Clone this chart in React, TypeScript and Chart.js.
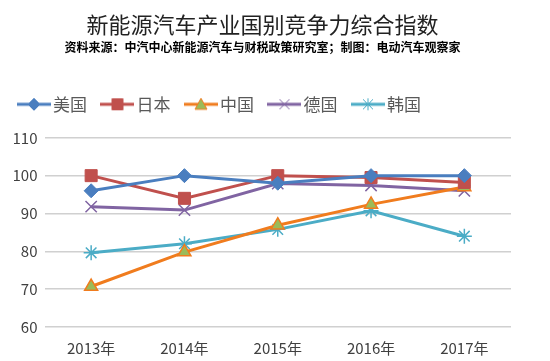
import React, { useEffect, useRef } from "react";
import { Chart, registerables } from "chart.js";

Chart.register(...registerables);

const categories = ["2013年", "2014年", "2015年", "2016年", "2017年"];
const seriesNames = ["美国", "日本", "中国", "德国", "韩国"];
const usa = [96, 100, 98, 100, 100];
const japan = [100, 94, 100, 99.5, 98.2];
const china = [70.7, 79.8, 86.9, 92.4, 97];
const germany = [91.8, 90.9, 97.9, 97.4, 96];
const korea = [79.6, 82, 85.8, 90.7, 84];
const yTicks = [60, 70, 80, 90, 100, 110];

const titleText = "新能源汽车产业国别竞争力综合指数";
const subtitleText = "资料来源：中汽中心新能源汽车与财税政策研究室；制图：电动汽车观察家";

const FONT = "'Noto Sans CJK SC', 'Liberation Sans', sans-serif";

type Style = {
  color: string;
  fill: string;
  pointStyle: string;
  radius: number;
  pointBorderWidth: number;
};

const styles: Style[] = [
  { color: "#4A7EBF", fill: "#4A7EBF", pointStyle: "rectRot", radius: 7, pointBorderWidth: 1 },
  { color: "#C0504D", fill: "#C0504D", pointStyle: "rect", radius: 8.5, pointBorderWidth: 1 },
  { color: "#F07C1E", fill: "#9BBB59", pointStyle: "triangle", radius: 7.5, pointBorderWidth: 1.5 },
  { color: "#8064A2", fill: "#8064A2", pointStyle: "crossRot", radius: 8, pointBorderWidth: 1.5 },
  { color: "#4BACC6", fill: "#4BACC6", pointStyle: "star", radius: 7.5, pointBorderWidth: 1.5 },
];

function legendGlyph(s: Style): HTMLCanvasElement {
  const c = document.createElement("canvas");
  c.width = 34;
  c.height = 16;
  const ctx = c.getContext("2d")!;
  ctx.strokeStyle = s.color;
  ctx.lineWidth = 3;
  ctx.beginPath();
  ctx.moveTo(0, 8);
  ctx.lineTo(34, 8);
  ctx.stroke();
  ctx.fillStyle = s.fill;
  ctx.strokeStyle = s.color;
  ctx.lineWidth = 1;
  const x = 17, y = 8;
  const r = 6;
  ctx.beginPath();
  if (s.pointStyle === "rectRot") {
    ctx.moveTo(x, y - r); ctx.lineTo(x + r, y); ctx.lineTo(x, y + r); ctx.lineTo(x - r, y); ctx.closePath();
    ctx.fill(); ctx.stroke();
  } else if (s.pointStyle === "rect") {
    ctx.rect(x - 5.5, y - 5.5, 11, 11); ctx.fill(); ctx.stroke();
  } else if (s.pointStyle === "triangle") {
    ctx.moveTo(x, y - 6); ctx.lineTo(x + 6, y + 5); ctx.lineTo(x - 6, y + 5); ctx.closePath();
    ctx.fill(); ctx.stroke();
  } else if (s.pointStyle === "crossRot") {
    ctx.moveTo(x - 5, y - 5); ctx.lineTo(x + 5, y + 5); ctx.moveTo(x + 5, y - 5); ctx.lineTo(x - 5, y + 5); ctx.stroke();
  } else {
    ctx.moveTo(x - 5, y - 5); ctx.lineTo(x + 5, y + 5); ctx.moveTo(x + 5, y - 5); ctx.lineTo(x - 5, y + 5);
    ctx.moveTo(x, y - 6); ctx.lineTo(x, y + 6); ctx.stroke();
  }
  return c;
}

export default function App() {
  const ref = useRef<HTMLCanvasElement | null>(null);

  useEffect(() => {
    if (!ref.current) return;
    const values = [usa, japan, china, germany, korea];
    const glyphs = styles.map(legendGlyph);

    const legendSpacer = {
      id: "legendSpacer",
      beforeUpdate(chart: any) {
        const lg = chart.legend;
        if (lg && !lg._patched) {
          const origFit = lg.fit;
          lg.fit = function () {
            origFit.call(this);
            this.height += 15;
          };
          const origDraw = lg.draw;
          lg.draw = function (...args: any[]) {
            const ctx = this.ctx;
            ctx.save();
            ctx.translate(-10.5, 0);
            origDraw.apply(this, args);
            ctx.restore();
          };
          lg._patched = true;
        }
      },
    };

    const chart = new Chart(ref.current, {
      type: "line",
      data: {
        labels: categories,
        datasets: seriesNames.map((name, i) => ({
          label: name,
          data: values[i],
          borderColor: styles[i].color,
          backgroundColor: styles[i].fill,
          pointBackgroundColor: styles[i].fill,
          pointBorderColor: styles[i].color,
          pointBorderWidth: styles[i].pointBorderWidth,
          pointStyle: styles[i].pointStyle as any,
          pointRadius: styles[i].radius,
          borderWidth: 3,
          tension: 0,
        })),
      },
      options: {
        responsive: false,
        animation: false,
        layout: { padding: { left: 14, right: 39, top: 9, bottom: 0 } },
        plugins: {
          title: {
            display: true,
            text: titleText,
            color: "#222222",
            font: { family: FONT, size: 22, weight: "normal", lineHeight: 1.2 },
            padding: { top: 2, bottom: 3 },
          },
          subtitle: {
            display: true,
            text: subtitleText,
            color: "#000000",
            font: { family: FONT, size: 12, weight: "bold", lineHeight: 1.2 },
            padding: { top: 0, bottom: 21 },
          },
          legend: {
            display: true,
            position: "top",
            align: "start",
            labels: {
              usePointStyle: true,
              pointStyleWidth: 21,
              boxHeight: 16,
              color: "#595959",
              font: { family: FONT, size: 17 },
              padding: 20,
              generateLabels: (ch: any) =>
                ch.data.datasets.map((ds: any, i: number) => ({
                  text: ds.label,
                  pointStyle: glyphs[i],
                  fillStyle: ds.borderColor,
                  strokeStyle: ds.borderColor,
                  lineWidth: 0,
                  hidden: false,
                  datasetIndex: i,
                  fontColor: "#595959",
                })),
            },
          },
          tooltip: { enabled: false },
        },
        scales: {
          x: {
            offset: true,
            grid: { display: false },
            border: { display: false },
            ticks: { color: "#404040", font: { family: FONT, size: 15 }, padding: 4 },
          },
          y: {
            min: 60,
            max: 110,
            afterBuildTicks: (axis: any) => {
              axis.ticks = yTicks.map((v) => ({ value: v }));
            },
            afterFit: (axis: any) => {
              axis.width = 30.5;
            },
            grid: { color: "#D0D0D0", lineWidth: 1.5, drawTicks: false },
            border: { display: false },
            ticks: { color: "#404040", font: { family: FONT, size: 15 }, padding: 7 },
          },
        },
      },
      plugins: [legendSpacer],
    });
    return () => chart.destroy();
  }, []);

  return (
    <div style={{ position: "absolute", left: 0, top: 0, width: 550, height: 361, background: "#fff" }}>
      <canvas ref={ref} width={550} height={361} style={{ width: 550, height: 361 }} />
    </div>
  );
}
